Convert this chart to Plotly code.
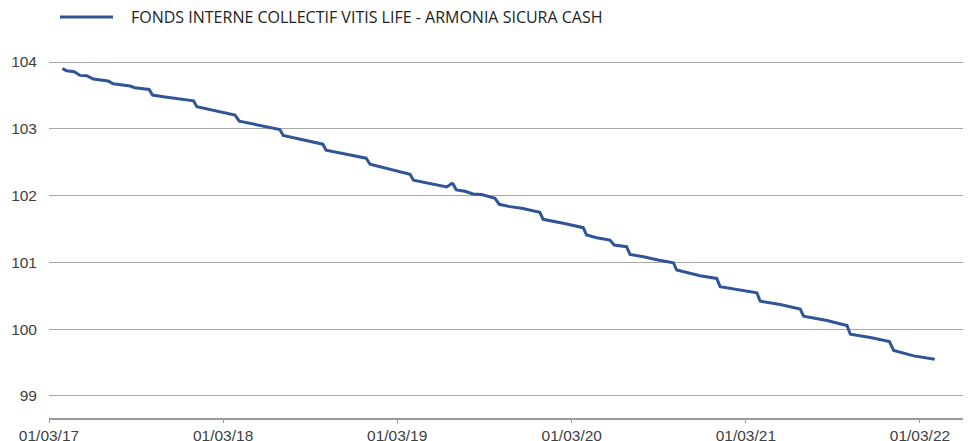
import plotly.graph_objects as go

series_name = "FONDS INTERNE COLLECTIF VITIS LIFE - ARMONIA SICURA CASH"

dates = [
    "2017-03-29", "2017-04-07", "2017-04-23", "2017-05-05", "2017-05-19", "2017-06-02",
    "2017-07-03", "2017-07-14", "2017-08-18", "2017-08-28", "2017-09-27", "2017-10-04",
    "2017-10-27", "2017-12-04", "2017-12-29", "2018-01-05", "2018-02-02", "2018-03-02",
    "2018-03-26", "2018-04-04", "2018-04-26", "2018-05-28", "2018-06-28", "2018-07-05",
    "2018-08-23", "2018-09-26", "2018-10-03", "2018-11-22", "2018-12-26", "2019-01-03",
    "2019-01-31", "2019-03-28", "2019-04-04", "2019-05-30", "2019-06-13", "2019-06-23",
    "2019-06-26", "2019-07-03", "2019-07-21", "2019-08-07", "2019-08-25", "2019-09-22",
    "2019-10-01", "2019-10-23", "2019-11-17", "2019-12-25", "2020-01-01", "2020-02-12",
    "2020-03-25", "2020-04-01", "2020-04-22", "2020-05-20", "2020-05-29", "2020-06-24",
    "2020-07-01", "2020-07-29", "2020-08-29", "2020-09-30", "2020-10-07", "2020-11-25",
    "2020-12-30", "2021-01-06", "2021-02-06", "2021-03-24", "2021-03-31", "2021-05-12",
    "2021-06-23", "2021-06-30", "2021-08-18", "2021-09-29", "2021-10-06", "2021-11-17",
    "2021-12-27", "2022-01-05", "2022-02-16", "2022-04-01",
]

values = [
    103.90, 103.87, 103.855, 103.80, 103.795, 103.745,
    103.715, 103.675, 103.64, 103.615, 103.59, 103.505,
    103.48, 103.445, 103.42, 103.33, 103.29, 103.245,
    103.205, 103.115, 103.08, 103.04, 102.99, 102.90,
    102.82, 102.77, 102.68, 102.61, 102.56, 102.47,
    102.42, 102.32, 102.23, 102.155, 102.13, 102.18,
    102.175, 102.085, 102.065, 102.025, 102.015, 101.96,
    101.87, 101.835, 101.81, 101.75, 101.645, 101.585,
    101.52, 101.41, 101.37, 101.335, 101.26, 101.235,
    101.12, 101.085, 101.035, 100.995, 100.885, 100.80,
    100.76, 100.635, 100.595, 100.545, 100.42, 100.37,
    100.30, 100.195, 100.13, 100.055, 99.925, 99.875,
    99.815, 99.68, 99.60, 99.55,
]

x_tick_values = ["2017-03-01", "2018-03-01", "2019-03-01", "2020-03-01", "2021-03-01", "2022-03-01"]
x_tick_labels = ["01/03/17", "01/03/18", "01/03/19", "01/03/20", "01/03/21", "01/03/22"]
y_tick_values = [99, 100, 101, 102, 103, 104]

LINE_COLOR = "#2F5597"

fig = go.Figure()
fig.add_trace(go.Scatter(
    x=dates, y=values, mode="lines", name=series_name,
    line=dict(color=LINE_COLOR, width=3),
    showlegend=False,
))

# legend-like key drawn at top
fig.add_shape(type="line", xref="paper", yref="paper",
              x0=0.0119, x1=0.0694, y0=1.0665, y1=1.0665,
              line=dict(color=LINE_COLOR, width=3))
fig.add_annotation(xref="paper", yref="paper", x=0.0868, y=1.0665,
                   xanchor="left", yanchor="middle", showarrow=False,
                   text=series_name,
                   font=dict(family="Open Sans", size=16, color="#222222"))

# the page body adds an 8px offset; the figure is sized to fill the window exactly
fig.update_layout(
    width=963, height=433,
    margin=dict(l=41, r=0, t=34, b=23),
    paper_bgcolor="white", plot_bgcolor="white",
    xaxis=dict(
        automargin=False,
        range=["2017-03-01", "2022-06-16"],
        tickvals=x_tick_values, ticktext=x_tick_labels,
        showgrid=False, zeroline=False,
        showline=True, linecolor="#9a9a9a", linewidth=1.5,
        ticks="outside", ticklen=3, tickcolor="#9a9a9a",
        tickfont=dict(family="Liberation Sans", size=15.5, color="#404040"),
    ),
    yaxis=dict(
        automargin=False,
        range=[98.67, 104.3],
        tickvals=y_tick_values,
        showgrid=True, gridcolor="#a6a6a6", gridwidth=1,
        zeroline=False, showline=False, ticks="",
        ticklabelstandoff=11,
        tickfont=dict(family="Liberation Sans", size=15.5, color="#404040"),
    ),
)

fig.write_html("out.html")
